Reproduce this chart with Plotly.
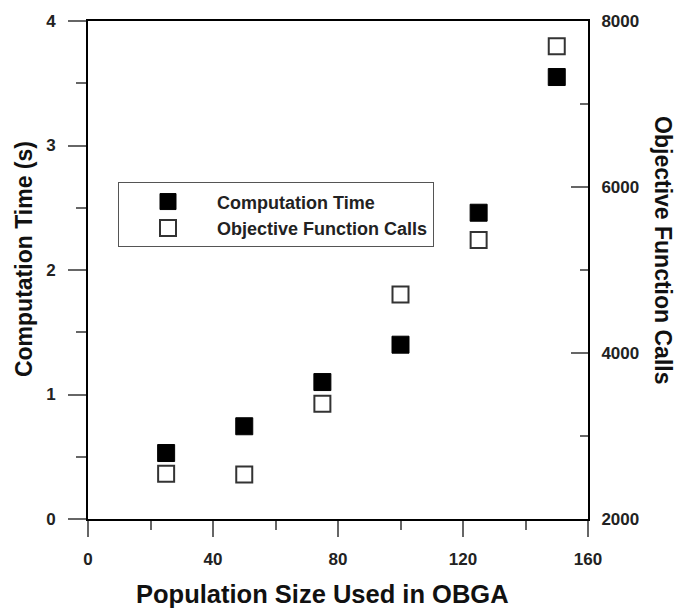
import plotly.graph_objects as go

# ---- data ----
population = [25, 50, 75, 100, 125, 150]
comp_time = [0.53, 0.745, 1.10, 1.40, 2.46, 3.55]
obj_calls = [2545, 2535, 3390, 4705, 5360, 7695]

x_ticks = [0, 40, 80, 120, 160]
y_ticks = [0, 1, 2, 3, 4]
y2_ticks = [2000, 4000, 6000, 8000]

FONT = "Liberation Sans, Arial, Helvetica, sans-serif"
TICKCOL = "#666666"

fig = go.Figure()
fig.add_trace(go.Scatter(
    x=population, y=comp_time, mode="markers", name="Computation Time",
    marker=dict(symbol="square", size=17, color="black",
                line=dict(color="black", width=1)),
    yaxis="y",
))
fig.add_trace(go.Scatter(
    x=population, y=obj_calls, mode="markers", name="Objective Function Calls",
    marker=dict(symbol="square", size=16, color="white",
                line=dict(color="#333333", width=2)),
    yaxis="y2",
))

tickfont = dict(family=FONT, size=17, color="#222222", weight="bold")

fig.update_layout(
    width=680, height=611,
    margin=dict(l=88, r=92, t=15, b=92),
    paper_bgcolor="white", plot_bgcolor="white",
    showlegend=True,
    legend=dict(
        x=0.060, y=0.676, xanchor="left", yanchor="top",
        bgcolor="white", bordercolor="#555555", borderwidth=1,
        font=dict(family=FONT, size=18, color="#222222", weight="bold"),
        itemwidth=88, tracegroupgap=0,
    ),
    xaxis=dict(
        range=[0, 160], tickvals=x_ticks, ticktext=[str(v) for v in x_ticks],
        showgrid=False, zeroline=False,
        showline=True, linecolor="black", linewidth=2, mirror=True,
        ticks="outside", ticklen=16, tickwidth=1.5, tickcolor=TICKCOL,
        minor=dict(dtick=20, ticks="outside", ticklen=9, tickwidth=1.5, tickcolor=TICKCOL),
        tickfont=tickfont, ticklabelstandoff=8,
    ),
    yaxis=dict(
        range=[0, 4], tickvals=y_ticks, ticktext=[str(v) for v in y_ticks],
        showgrid=False, zeroline=False,
        showline=True, linecolor="black", linewidth=2,
        ticks="outside", ticklen=18, tickwidth=1.5, tickcolor=TICKCOL,
        minor=dict(dtick=0.5, ticks="outside", ticklen=10, tickwidth=1.5, tickcolor=TICKCOL),
        tickfont=tickfont, ticklabelstandoff=9,
    ),
    yaxis2=dict(
        range=[2000, 8000], tickvals=y2_ticks, ticktext=[str(v) for v in y2_ticks],
        overlaying="y", side="right", anchor="x",
        showgrid=False, zeroline=False,
        showline=True, linecolor="black", linewidth=2,
        ticks="inside", ticklen=17, tickwidth=1.5, tickcolor=TICKCOL,
        minor=dict(dtick=1000, ticks="inside", ticklen=8, tickwidth=1.5, tickcolor=TICKCOL),
        tickfont=tickfont, ticklabelstandoff=8,
    ),
    annotations=[
        dict(text="Population Size Used in OBGA", xref="paper", yref="paper",
             x=0.469, y=-0.151, xanchor="center", yanchor="middle", showarrow=False,
             font=dict(family=FONT, size=25.5, color="#111111", weight="bold")),
        dict(text="Computation Time (s)", xref="paper", yref="paper",
             x=-0.128, y=0.522, xanchor="center", yanchor="middle", showarrow=False,
             textangle=-90,
             font=dict(family=FONT, size=23, color="#111111", weight="bold")),
        dict(text="Objective Function Calls", xref="paper", yref="paper",
             x=1.150, y=0.540, xanchor="center", yanchor="middle", showarrow=False,
             textangle=90,
             font=dict(family=FONT, size=23, color="#111111", weight="bold")),
    ],
)

fig.write_html("out.html")
